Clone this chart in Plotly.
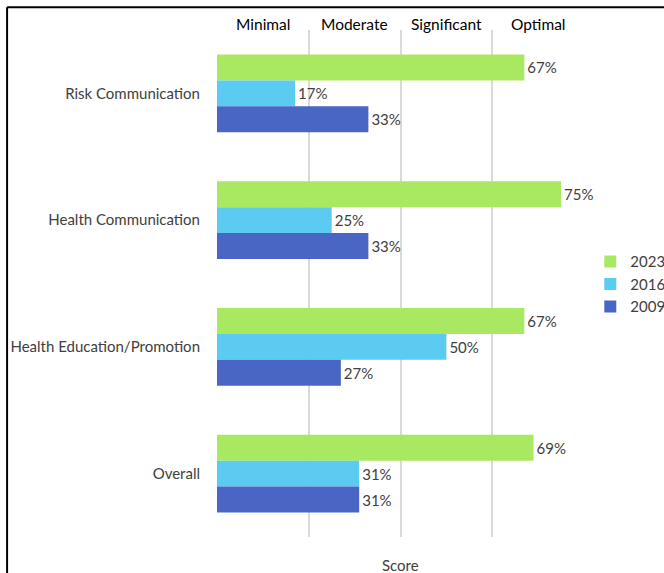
import plotly.graph_objects as go

# Readiness domains and scores by assessment year
categories = ["Risk Communication", "Health Communication",
              "Health Education/Promotion", "Overall"]
years = ["2023", "2016", "2009"]
scores_2023 = [67, 75, 67, 69]
scores_2016 = [17, 25, 50, 31]
scores_2009 = [33, 33, 27, 31]
level_labels = ["Minimal", "Moderate", "Significant", "Optimal"]
level_centers = [10, 30, 50, 70]
grid_vals = [0, 20, 40, 60, 80]

colors = {"2023": "#A9E962", "2016": "#5BCBF2", "2009": "#4A66C4"}
series = {"2023": scores_2023, "2016": scores_2016, "2009": scores_2009}

FONT = "Lato, Roboto, sans-serif"

fig = go.Figure()
for yr in years:
    vals = series[yr]
    fig.add_trace(go.Bar(
        y=categories, x=vals, name=yr, orientation="h",
        marker=dict(color=colors[yr], line=dict(width=0)),
        text=[f"{v}%" for v in vals], textposition="outside",
        textfont=dict(family=FONT, size=15, color="#404040"),
        cliponaxis=False,
    ))

# level names sit between the gridlines, just above the plot
level_annotations = [
    dict(text=lbl, xref="x", yref="paper", x=cx, y=1.0,
         xanchor="center", yanchor="middle", yshift=6, showarrow=False,
         font=dict(family=FONT, size=15.5, color="#000000"))
    for lbl, cx in zip(level_labels, level_centers)
]

fig.update_layout(
    width=664, height=573,
    margin=dict(l=217, r=80, t=30, b=36, autoexpand=False),
    paper_bgcolor="white", plot_bgcolor="white",
    barmode="group", bargap=0.385, bargroupgap=0,
    font=dict(family=FONT, size=15, color="#404040"),
    xaxis=dict(range=[0, 80], tickvals=grid_vals, showticklabels=False,
               showgrid=True, gridcolor="#D9D9D9", gridwidth=1.5,
               zeroline=False, showline=False, fixedrange=True,
               automargin=False),
    yaxis=dict(autorange="reversed", showgrid=False, showline=False,
               ticks="", ticklabelstandoff=16, automargin=False,
               tickfont=dict(family=FONT, size=15, color="#404040")),
    legend=dict(xref="container", yref="container",
                x=0.889, y=0.504, xanchor="left", yanchor="middle",
                font=dict(family=FONT, size=15, color="#404040"),
                itemwidth=30, tracegroupgap=0),
    showlegend=True,
    annotations=level_annotations + [
        dict(text="Score", xref="paper", yref="paper",
             x=0.5, y=-0.055, xanchor="center", yanchor="middle",
             showarrow=False,
             font=dict(family=FONT, size=15, color="#404040"))],
    shapes=[
        dict(type="line", xref="paper", yref="paper",
             x0=-0.572, x1=1.3, y0=1.045, y1=1.045,
             line=dict(color="black", width=2)),
        dict(type="line", xref="paper", yref="paper",
             x0=-0.572, x1=-0.572, y0=1.045, y1=-0.2,
             line=dict(color="black", width=2)),
    ],
)

fig.write_html("out.html")
